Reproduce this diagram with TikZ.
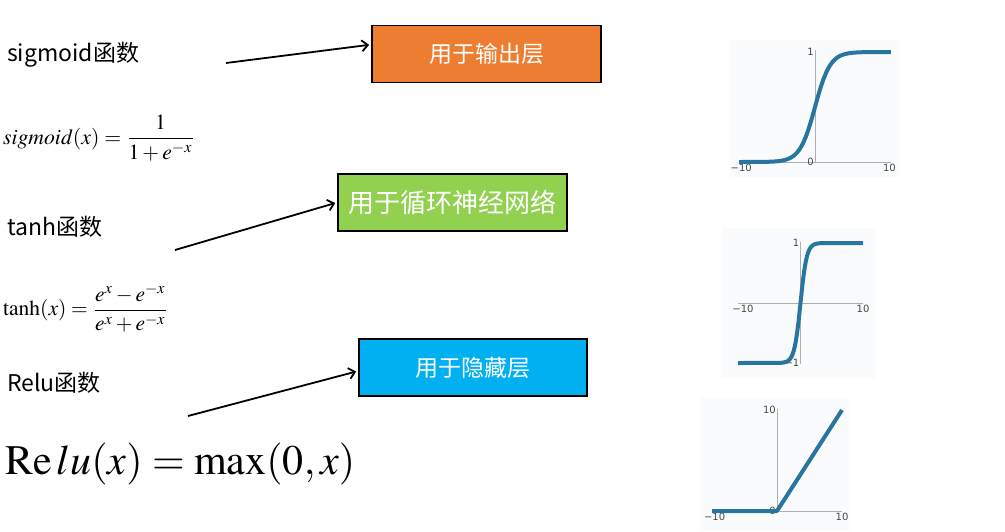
\documentclass[tikz,border=0pt]{standalone}
\usepackage{mathptmx}
\usepackage{graphicx}
\usepackage[no-math]{fontspec}
\newfontfamily\cjk{Noto Sans CJK SC}
\newfontfamily\tickfont{DejaVu Sans}
\usetikzlibrary{arrows.meta,calc}
\definecolor{orangebox}{RGB}{237,125,49}
\definecolor{greenbox}{RGB}{146,208,80}
\definecolor{bluebox}{RGB}{0,176,240}
\definecolor{curvecol}{RGB}{40,118,160}
\definecolor{axisgray}{RGB}{175,175,175}
\definecolor{plotbg}{RGB}{250,251,253}
\definecolor{ticktext}{RGB}{70,70,70}
\begin{document}
\begin{tikzpicture}[x=1pt,y=-1pt,
  lab/.style={anchor=west,font=\cjk\fontsize{23}{27}\selectfont,inner sep=0pt},
  fnbox/.style={draw=black,line width=1.8pt,minimum height=57pt,text=white,inner sep=0pt},
  arr/.style={line width=1.8pt,-{Straight Barb[length=6pt,width=11pt]},shorten >=2pt},
  ax/.style={draw=axisgray,line width=0.8pt},
  crv/.style={draw=curvecol,line width=4pt,line join=round},
  ticklab/.style={font=\tickfont\fontsize{10}{11}\selectfont,text=ticktext,inner sep=1pt},
  plotbox/.style={fill=plotbg}]
\useasboundingbox (0,0) rectangle (1005,531);
\fill[white] (0,0) rectangle (1005,531);

% labels
\node[lab] (lsig) at (7,55) {sigmoid函数};
\node[lab] (ltanh) at (7,227) {tanh函数};
\node[lab] (lrelu) at (7,383) {Relu函数};

% formulas
\node[anchor=west,inner sep=0pt] (fsig) at (3,138) {\resizebox{192pt}{!}{$\displaystyle sigmoid(x)=\frac{1}{1+e^{-x}}$}};
\node[anchor=west,inner sep=0pt] (ftanh) at (3,308) {\resizebox{165pt}{!}{$\displaystyle \tanh(x)=\frac{e^{x}-e^{-x}}{e^{x}+e^{-x}}$}};
\node[anchor=base west,inner sep=0pt] (frelu) at (5,474) {\resizebox{350pt}{!}{$\mathrm{Re}\,lu(x)=\max(0,x)$}};

% boxes
\node[fnbox,fill=orangebox,minimum width=229pt,font=\cjk\fontsize{23}{27}\selectfont] (bout) at (486.5,54) {用于输出层};
\node[fnbox,fill=greenbox,minimum width=229pt,font=\cjk\fontsize{26}{30}\selectfont] (brnn) at (452.5,202.5) {用于循环神经网络};
\node[fnbox,fill=bluebox,minimum width=228pt,font=\cjk\fontsize{23}{27}\selectfont] (bhid) at (473,367.5) {用于隐藏层};

% arrows
\coordinate (a1) at (226,63);
\coordinate (a2) at (175,250);
\coordinate (a3) at (188,416);
\draw[arr] (a1) -- ($(bout.north west)!0.34!(bout.south west)$);
\draw[arr] (a2) -- (brnn.west);
\draw[arr] (a3) -- ($(bhid.north west)!0.56!(bhid.south west)$);

% sigmoid plot
\begin{scope}[shift={(815pt,-162pt)},x=7.6pt,y=110pt]
  \fill[plotbox] (-11.2,-0.14) rectangle (11.2,1.11);
  \draw[ax] (-10,0) -- (10,0);
  \draw[ax] (0,0) -- (0,1.02);
  \node[ticklab,anchor=east] (s1) at (0,1) {1};
  \node[ticklab,anchor=east] (s0) at (0,0) {0};
  \node[ticklab,anchor=north] (sm) at (-9.7,-0.01) {−10};
  \node[ticklab,anchor=north] (sp) at (9.8,-0.01) {10};
  \draw[crv] (-10,0) -- plot[domain=-9:10,samples=90,smooth] (\x,{1/(1+exp(-\x))});
\end{scope}

% tanh plot
\begin{scope}[shift={(800.5pt,-303pt)},x=6.25pt,y=60pt]
  \fill[plotbox] (-12.6,-1.25) rectangle (12.1,1.25);
  \draw[ax] (-10,0) -- (10,0);
  \draw[ax] (0,-1.02) -- (0,1.02);
  \node[ticklab,anchor=east] (t1) at (0,1) {1};
  \node[ticklab,anchor=east] (tm1) at (0,-1) {−1};
  \node[ticklab,anchor=north] (tm) at (-9.2,-0.02) {−10};
  \node[ticklab,anchor=north] (tp) at (10,-0.02) {10};
  \draw[crv] (-10,-1) -- plot[domain=-4:4,samples=90,smooth] (\x,{1-2/(1+exp(2*\x))}) -- (10,1);
\end{scope}

% relu plot
\begin{scope}[shift={(777pt,-511pt)},x=6.5pt,y=10.1pt]
  \fill[plotbox] (-11.8,-2) rectangle (11.2,11.2);
  \draw[ax] (-10,0) -- (10,0);
  \draw[ax] (0,0) -- (0,10.1);
  \node[ticklab,anchor=east] (r10) at (0,10) {10};
  \node[ticklab,anchor=east] (r0) at (0,0) {0};
  \node[ticklab,anchor=north] (rm) at (-9.6,-0.1) {−10};
  \node[ticklab,anchor=north] (rp) at (10,-0.1) {10};
  \draw[crv] (-10,0) -- (0,0) -- (10,10);
\end{scope}
\end{tikzpicture}
\end{document}
